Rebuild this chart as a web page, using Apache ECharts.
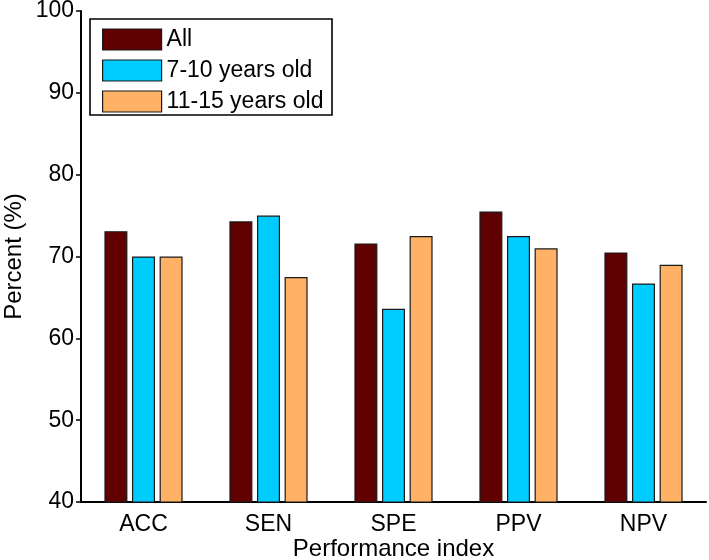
<!DOCTYPE html>
<html>
<head>
<meta charset="utf-8">
<script src="https://cdn.jsdelivr.net/npm/echarts@6/dist/echarts.min.js"></script>
<style>
html,body{margin:0;padding:0;background:#fff;}
#chart{width:709px;height:560px;}
</style>
</head>
<body>
<div id="chart"></div>
<script>
var categories = ['ACC', 'SEN', 'SPE', 'PPV', 'NPV'];
var seriesNames = ['All', '7-10 years old', '11-15 years old'];
var allValues = [73.1, 74.3, 71.6, 75.5, 70.5];
var age7to10Values = [70.0, 75.0, 63.6, 72.5, 66.7];
var age11to15Values = [70.0, 67.5, 72.5, 71.0, 69.0];
var yTicks = [40, 50, 60, 70, 80, 90, 100];

var colors = ['#600000', '#00CCFF', '#FFB266'];
var font = 'Liberation Sans, Arial, sans-serif';
var chart = echarts.init(document.getElementById('chart'), null, {renderer: 'canvas'});

function mkSeries(name, data, color) {
  return {
    name: name,
    type: 'bar',
    data: data,
    barWidth: 23,
    barGap: '20%',
    itemStyle: {color: color, borderColor: '#1a1a1a', borderWidth: 1.2},
    emphasis: {disabled: true}
  };
}

chart.setOption({
  animation: false,
  backgroundColor: '#ffffff',
  textStyle: {fontFamily: font},
  grid: {left: 81, right: 3, top: 11, bottom: 58, containLabel: false, outerBoundsMode: 'none'},
  graphic: [{
    type: 'rect',
    shape: {x: 90, y: 19, width: 242, height: 96},
    style: {fill: '#ffffff', stroke: '#000000', lineWidth: 1.6},
    z: 100
  }],
  legend: {
    orient: 'vertical',
    left: 91,
    top: 19,
    padding: [9, 10, 8, 11],
    itemWidth: 59,
    itemHeight: 21,
    itemGap: 8,
    icon: 'rect',
    z: 101,
    data: seriesNames,
    textStyle: {fontFamily: font, fontSize: 23, color: '#000'},
    itemStyle: {borderColor: '#1a1a1a', borderWidth: 1.2}
  },
  xAxis: {
    type: 'category',
    data: categories,
    name: 'Performance index',
    nameLocation: 'middle',
    nameGap: 35,
    nameMoveOverlap: false,
    nameTextStyle: {fontFamily: font, fontSize: 24, color: '#000'},
    axisLine: {lineStyle: {color: '#000', width: 2}},
    axisTick: {show: false},
    axisLabel: {fontFamily: font, fontSize: 23, color: '#000', margin: 11}
  },
  yAxis: {
    type: 'value',
    min: yTicks[0],
    max: yTicks[yTicks.length - 1],
    interval: 10,
    name: 'Percent (%)',
    nameLocation: 'middle',
    nameGap: 55,
    nameMoveOverlap: false,
    nameTextStyle: {fontFamily: font, fontSize: 24, color: '#000'},
    axisLine: {show: true, lineStyle: {color: '#000', width: 2}},
    axisTick: {show: true, length: 5, lineStyle: {color: '#000', width: 1.5}},
    axisLabel: {fontFamily: font, fontSize: 23, color: '#000', margin: 7},
    splitLine: {show: false}
  },
  series: [
    mkSeries(seriesNames[0], allValues, colors[0]),
    mkSeries(seriesNames[1], age7to10Values, colors[1]),
    mkSeries(seriesNames[2], age11to15Values, colors[2])
  ]
});
</script>
</body>
</html>
